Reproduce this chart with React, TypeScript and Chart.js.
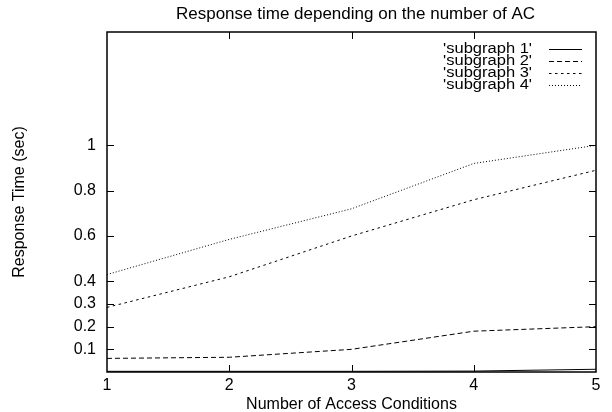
import React, { useEffect, useRef } from 'react';
import { Chart, registerables } from 'chart.js';

Chart.register(...registerables);

const xValues = [1, 2, 3, 4, 5];
const seriesLabels = ["'subgraph 1'", "'subgraph 2'", "'subgraph 3'", "'subgraph 4'"];
const subgraph1 = [0.003, 0.003, 0.003, 0.004, 0.012];
const subgraph2 = [0.06, 0.065, 0.1, 0.18, 0.2];
const subgraph3 = [0.285, 0.42, 0.6, 0.76, 0.89];
const subgraph4 = [0.43, 0.585, 0.72, 0.92, 1.0];
const xTickValues = [1, 2, 3, 4, 5];
const yTickValues = [0.1, 0.2, 0.3, 0.4, 0.6, 0.8, 1];
const chartTitle = 'Response time depending on the number of AC';

const FONT = 'Liberation Sans, Arial, Helvetica, sans-serif';
const dashPatterns = [[], [5, 3], [2.5, 3.5], [1, 2]];

const framePlugin = {
  id: 'gnuFrame',
  afterDraw(chart: any) {
    const { ctx, chartArea, scales } = chart;
    const { left, right, top, bottom } = chartArea;
    const xs = scales.x;
    const ys = scales.y;
    const L = Math.round(left);
    const R = Math.round(right);
    const T = Math.round(top);
    const B = Math.round(bottom);
    const tl = 7;
    ctx.save();
    ctx.strokeStyle = '#000';
    ctx.lineWidth = 1;
    ctx.setLineDash([]);
    ctx.beginPath();
    xs.ticks.forEach((t: any) => {
      const px = Math.round(xs.getPixelForValue(t.value)) + 0.5;
      if (px <= L + 1 || px >= R - 1) return;
      ctx.moveTo(px, B);
      ctx.lineTo(px, B - tl);
      ctx.moveTo(px, T);
      ctx.lineTo(px, T + tl);
    });
    ys.ticks.forEach((t: any) => {
      const py = Math.round(ys.getPixelForValue(t.value)) + 0.5;
      ctx.moveTo(L, py);
      ctx.lineTo(L + tl, py);
      ctx.moveTo(R, py);
      ctx.lineTo(R - tl, py);
    });
    ctx.stroke();
    ctx.lineWidth = 1.5;
    ctx.strokeRect(L, T, R - L, B - T);
    ctx.restore();
  },
};

const titlePlugin = {
  id: 'gnuTitle',
  afterDraw(chart: any) {
    const { ctx, chartArea } = chart;
    ctx.save();
    ctx.font = `17px ${FONT}`;
    ctx.fillStyle = '#000';
    ctx.textAlign = 'center';
    ctx.textBaseline = 'middle';
    ctx.fillText(chartTitle, (chartArea.left + chartArea.right) / 2 + 4, 14);
    ctx.restore();
  },
};

const legendPlugin = {
  id: 'gnuLegend',
  afterDraw(chart: any) {
    const { ctx, chartArea } = chart;
    const textRight = chartArea.right - 64;
    const lineStart = chartArea.right - 47;
    const lineEnd = chartArea.right - 14;
    const rowTop = chartArea.top + 17;
    const pitch = 12;
    const stretch = 1.18;
    ctx.save();
    chart.data.datasets.forEach((ds: any, i: number) => {
      const y = rowTop + i * pitch;
      ctx.save();
      ctx.font = `14px ${FONT}`;
      ctx.fillStyle = '#000';
      ctx.textAlign = 'right';
      ctx.textBaseline = 'middle';
      ctx.translate(textRight, y);
      ctx.scale(stretch, 1);
      ctx.fillText(ds.label, 0, 0);
      ctx.restore();
      ctx.beginPath();
      ctx.strokeStyle = ds.borderColor;
      ctx.lineWidth = ds.borderWidth;
      ctx.setLineDash(ds.borderDash || []);
      ctx.moveTo(lineStart, Math.round(y) + 0.5);
      ctx.lineTo(lineEnd, Math.round(y) + 0.5);
      ctx.stroke();
    });
    ctx.restore();
  },
};

export default function App() {
  const canvasRef = useRef<HTMLCanvasElement | null>(null);

  useEffect(() => {
    if (!canvasRef.current) return;
    document.body.style.margin = '0';
    const allSeries = [subgraph1, subgraph2, subgraph3, subgraph4];
    const datasets = allSeries.map((s, i) => ({
      label: seriesLabels[i],
      data: xValues.map((x, j) => ({ x, y: s[j] })),
      borderColor: '#000',
      borderWidth: 1,
      borderDash: dashPatterns[i],
      pointRadius: 0,
      tension: 0,
      fill: false,
    }));
    const font = { family: FONT, size: 16, weight: 'normal' as const };
    const chart = new Chart(canvasRef.current, {
      type: 'line',
      data: { datasets },
      plugins: [framePlugin, legendPlugin, titlePlugin],
      options: {
        animation: false,
        responsive: false,
        maintainAspectRatio: false,
        layout: { padding: { left: 0, right: 16, top: 32, bottom: 0 } },
        plugins: {
          legend: { display: false },
          tooltip: { enabled: false },
          title: { display: false },
        },
        scales: {
          x: {
            type: 'linear',
            min: 1,
            max: 5,
            afterBuildTicks: (s: any) => {
              s.ticks = xTickValues.map((v) => ({ value: v }));
            },
            afterFit: (s: any) => {
              s.height = 40;
            },
            ticks: {
              color: '#000',
              font,
              padding: 4,
              autoSkip: false,
              maxRotation: 0,
              callback: (v: any) => String(v),
            },
            grid: { display: false, drawTicks: false },
            border: { display: false },
            title: {
              display: true,
              text: 'Number of Access Conditions',
              color: '#000',
              font,
              padding: { top: 0, bottom: -2 },
            },
          },
          y: {
            type: 'linear',
            min: 0,
            max: 1.5,
            afterBuildTicks: (s: any) => {
              s.ticks = yTickValues.map((v) => ({ value: v }));
            },
            afterFit: (s: any) => {
              s.width = 107;
            },
            ticks: {
              color: '#000',
              font,
              padding: 11,
              autoSkip: false,
              callback: (v: any) => String(v),
            },
            grid: { display: false, drawTicks: false },
            border: { display: false },
            title: {
              display: true,
              text: 'Response Time (sec)',
              color: '#000',
              font,
              padding: { top: 10, bottom: 0 },
            },
          },
        },
      },
    });
    return () => chart.destroy();
  }, []);

  return (
    <div style={{ position: 'absolute', left: 0, top: 0, width: 612, height: 412 }}>
      <canvas ref={canvasRef} width={612} height={412} style={{ display: 'block', width: 612, height: 412 }} />
    </div>
  );
}
